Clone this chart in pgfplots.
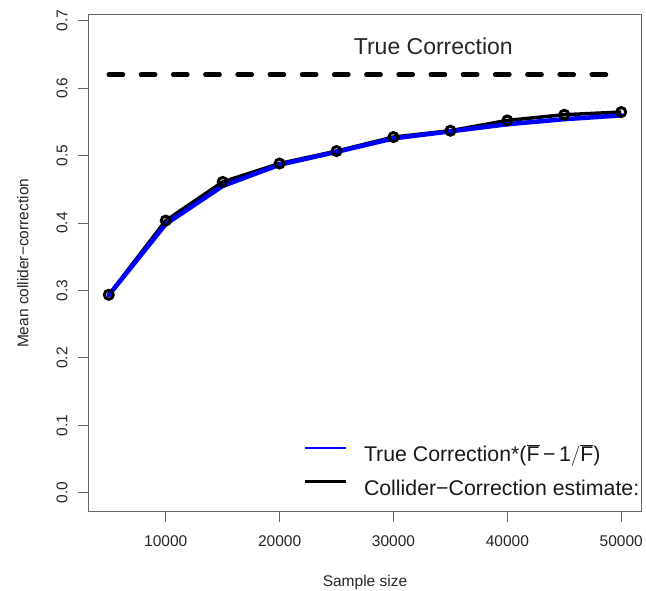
\documentclass[border=0pt]{standalone}
\usepackage{fontspec}
\setmainfont{Liberation Sans}
\usepackage{pgfplots}
\pgfplotsset{compat=1.18}
\definecolor{boxgray}{gray}{0.40}
\begin{document}
\begin{tikzpicture}
\useasboundingbox (-88.3bp,-79.3bp) rectangle (557.7bp,511.7bp);
\begin{axis}[
  scale only axis,
  width=553.4bp, height=496.7bp,
  xmin=3200, xmax=51800, ymin=-0.028, ymax=0.7085,
  xtick={10000,20000,30000,40000,50000},
  ytick={0,0.1,0.2,0.3,0.4,0.5,0.6,0.7},
  scaled ticks=false,
  xtick pos=left, ytick pos=left,
  tick align=outside,
  major tick length=10bp,
  axis line style={boxgray, line width=1bp},
  tick style={boxgray, line width=1bp},
  /pgf/number format/assume math mode=true,
  tick label style={font=\fontsize{15.5bp}{18bp}\selectfont, text=black!85},
  xticklabel style={/pgf/number format/1000 sep={}, anchor=north, inner sep=0pt, yshift=-14bp},
  yticklabel style={/pgf/number format/.cd, fixed, fixed zerofill, precision=1, /tikz/.cd,
     rotate=90, anchor=south, inner sep=0pt, yshift=10.5bp},
  xlabel={Sample size},
  ylabel={Mean collider−correction},
  label style={font=\fontsize{15.5bp}{18bp}\selectfont, text=black!85, inner sep=0pt},
  xlabel style={at={(axis description cs:0.5,0)}, anchor=base, yshift=-74.8bp},
  ylabel style={at={(axis description cs:0,0.5)}, anchor=base, yshift=60bp},
  legend image code/.code={\draw[#1] (0bp,7.8bp) -- (41bp,7.8bp);},
  legend style={draw=none, fill=none, at={(axis description cs:0.3880,0.1343)}, anchor=north west,
     inner sep=0pt, column sep=17bp, row sep=13bp,
     nodes={inner sep=0pt, text height=16bp, text depth=5bp},
     font=\fontsize{21.3bp}{26bp}\selectfont, text=black!90},
  legend cell align=left,
]
% dashed true correction
\addplot[black, line width=4.5bp, dash pattern=on 14.2bp off 18bp, line cap=round, forget plot]
  coordinates {(5000,0.62) (50000,0.62)};
\node[anchor=base, font=\fontsize{23bp}{27bp}\selectfont, text=black!85] at (axis cs:33500,0.65) {True Correction};
% collider-correction estimate
\addplot[black, line width=3.5bp, mark=o, mark size=4.5bp, mark options={line width=3bp, fill=white}, forget plot]
  coordinates {
  (5000,0.2936) (10000,0.4036) (15000,0.4610) (20000,0.4883) (25000,0.5067)
  (30000,0.5275) (35000,0.5369) (40000,0.5522) (45000,0.5606) (50000,0.5646)};
% true correction * (F - 1/F)
\addplot[blue, line width=4.5bp, line join=round, line cap=round, forget plot]
  coordinates {
  (5000,0.2930) (10000,0.3985) (15000,0.4550) (20000,0.4865) (25000,0.5055)
  (30000,0.5255) (35000,0.5360) (40000,0.5465) (45000,0.5540) (50000,0.5596)};
\addlegendimage{blue, line width=2.2bp}
\addlegendentry{True Correction*(\(\overline{\mbox{F}}\)\,−\,1\(/\)\(\overline{\mbox{F}}\))}
\addlegendimage{black, line width=2.8bp}
\addlegendentry{Collider−Correction estimate:}
\end{axis}
\end{tikzpicture}
\end{document}
